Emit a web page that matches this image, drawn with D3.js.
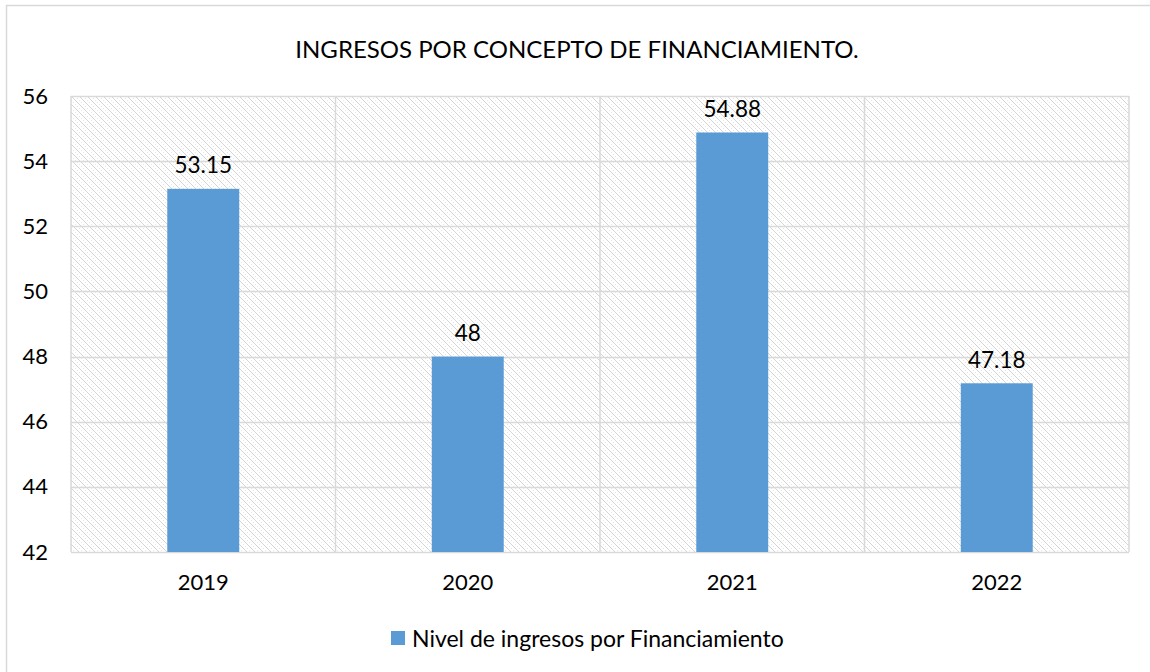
<!DOCTYPE html>
<html>
<head>
<meta charset="utf-8">
<script src="https://cdn.jsdelivr.net/npm/d3@7"></script>
<style>
  body { margin: 0; background: #fff; }
  svg text { font-family: Lato, "Open Sans", sans-serif; fill: #000; }
</style>
</head>
<body>
<div id="chart"></div>
<script>
const years  = ['2019', '2020', '2021', '2022'];
const values = [53.15, 48, 54.88, 47.18];
const yTicks = [42, 44, 46, 48, 50, 52, 54, 56];
const title = 'INGRESOS POR CONCEPTO DE FINANCIAMIENTO.';
const seriesName = 'Nivel de ingresos por Financiamiento';

const W = 1150, H = 672;
const m = { top: 96, right: 21, bottom: 120, left: 71 };
const innerW = W - m.left - m.right;
const innerH = H - m.top - m.bottom;
const barColor = '#5b9bd5';
const gridColor = '#d9d9d9';

const svg = d3.select('#chart').append('svg')
  .attr('width', W)
  .attr('height', H);

// hatch fill for plot background
const defs = svg.append('defs');
const pat = defs.append('pattern')
  .attr('id', 'hatch')
  .attr('patternUnits', 'userSpaceOnUse')
  .attr('width', 8).attr('height', 8);
pat.append('rect').attr('width', 8).attr('height', 8).attr('fill', '#fff');
[0, 2, 4, 6].forEach(k => {
  pat.append('rect').attr('x', k).attr('y', k).attr('width', 1).attr('height', 1).attr('fill', '#d4d4d4');
  pat.append('rect').attr('x', k + 1).attr('y', k + 1).attr('width', 1).attr('height', 1).attr('fill', '#d4d4d4');
  pat.append('rect').attr('x', (k + 4) % 8).attr('y', k).attr('width', 1).attr('height', 1).attr('fill', '#e6e6e6');
});

// outer chart border
svg.append('rect')
  .attr('x', 6.5).attr('y', 5.5)
  .attr('width', W).attr('height', H)
  .attr('fill', 'none')
  .attr('stroke', gridColor)
  .attr('stroke-width', 1.5);

svg.append('text')
  .attr('x', 577).attr('y', 48)
  .attr('text-anchor', 'middle')
  .attr('dominant-baseline', 'central')
  .style('font-size', '24px')
  .text(title);

const g = svg.append('g').attr('transform', `translate(${m.left},${m.top})`);

const x = d3.scaleBand().domain(years).range([0, innerW]).paddingInner(0.728).paddingOuter(0.364);
const xCells = d3.scaleBand().domain(years).range([0, innerW]);
const y = d3.scaleLinear().domain([42, 56]).range([innerH, 0]);

g.append('rect')
  .attr('width', innerW).attr('height', innerH)
  .attr('fill', 'url(#hatch)');

// horizontal gridlines
g.append('g').selectAll('line')
  .data(yTicks)
  .join('line')
    .attr('x1', 0).attr('x2', innerW)
    .attr('y1', d => Math.round(y(d)) + 0.5).attr('y2', d => Math.round(y(d)) + 0.5)
    .attr('stroke', gridColor).attr('stroke-width', 1.5);

// vertical gridlines between categories
g.append('g').selectAll('line')
  .data(years.concat(['end']))
  .join('line')
    .attr('x1', d => d === 'end' ? innerW : xCells(d))
    .attr('x2', d => d === 'end' ? innerW : xCells(d))
    .attr('y1', 0).attr('y2', innerH)
    .attr('stroke', gridColor).attr('stroke-width', 1.5);

// y axis labels
const yAxis = g.append('g')
  .call(d3.axisLeft(y).tickValues(yTicks).tickSize(0).tickPadding(23));
yAxis.select('.domain').remove();
yAxis.selectAll('text').style('font-size', '22px').attr('fill', '#000');

// x axis labels
const xAxis = g.append('g')
  .attr('transform', `translate(0,${innerH})`)
  .call(d3.axisBottom(x).tickSize(0).tickPadding(22));
xAxis.select('.domain').remove();
xAxis.selectAll('text').style('font-size', '22px').attr('fill', '#000');

// bars
g.selectAll('.bar')
  .data(values)
  .join('rect')
    .attr('class', 'bar')
    .attr('x', (d, i) => x(years[i]))
    .attr('width', x.bandwidth())
    .attr('y', d => y(d))
    .attr('height', d => innerH - y(d))
    .attr('fill', barColor);

// value labels
g.selectAll('.lbl')
  .data(values)
  .join('text')
    .attr('class', 'lbl')
    .attr('x', (d, i) => x(years[i]) + x.bandwidth() / 2)
    .attr('y', d => y(d) - 24)
    .attr('text-anchor', 'middle')
    .attr('dominant-baseline', 'central')
    .style('font-size', '22.5px')
    .text(d => d);

// legend
const leg = svg.append('g').attr('transform', 'translate(391,631)');
leg.append('rect').attr('width', 14).attr('height', 14).attr('fill', barColor);
leg.append('text')
  .attr('x', 21).attr('y', 7)
  .attr('dominant-baseline', 'central')
  .style('font-size', '23px')
  .text(seriesName);
</script>
</body>
</html>
